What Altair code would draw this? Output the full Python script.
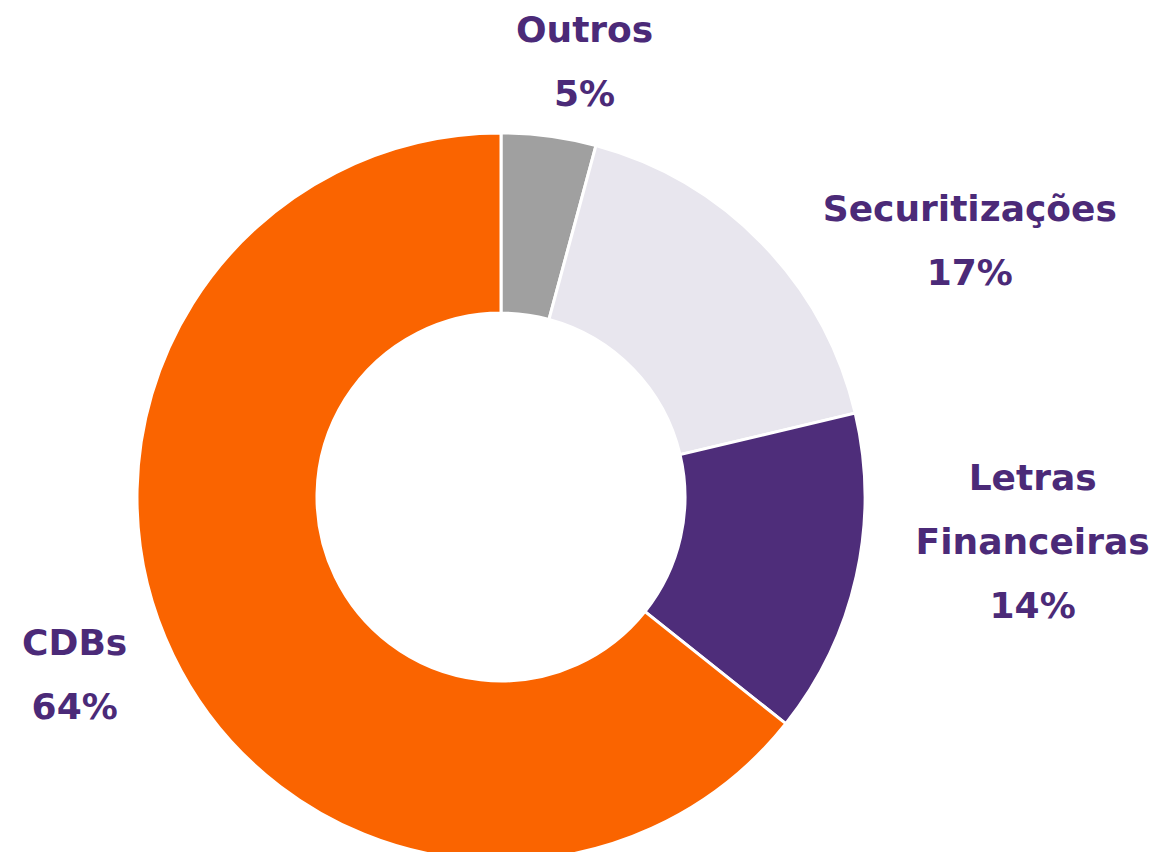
import altair as alt
import pandas as pd

categories = ["Outros", "Securitizações", "Letras Financeiras", "CDBs"]
values = [4.2, 17.1, 14.4, 64.3]
labels = ["Outros\n5%", "Securitizações\n17%", "Letras\nFinanceiras\n14%", "CDBs\n64%"]
colors = ["#a0a0a0", "#e8e6ee", "#4e2d7a", "#fa6400"]

df = pd.DataFrame({"cat": categories, "value": values, "label": labels,
                   "order": list(range(len(categories)))})

# label offsets (layout only)
offsets = {
    "Outros": (27, -40),
    "Securitizações": (160, 12),
    "Letras Financeiras": (112, -112),
    "CDBs": (-39, -40),
}

CX, CY = 493, 489
theta_scale = alt.Scale(domain=[0, 100], range=[0, 6.283185307])

base = alt.Chart(df).transform_stack(
    stack="value", groupby=[], as_=["v0", "v1"], sort=[alt.SortField("order")]
).transform_calculate(mid="(datum.v0 + datum.v1) / 2")

arcs = base.mark_arc(innerRadius=184, outerRadius=364, stroke="white", strokeWidth=3).encode(
    theta=alt.Theta("v0:Q", scale=theta_scale),
    theta2="v1:Q",
    color=alt.Color("cat:N", scale=alt.Scale(domain=categories, range=colors), legend=None),
    x=alt.value(CX),
    y=alt.value(CY),
)

layers = [arcs]
for cat in categories:
    dx, dy = offsets[cat]
    t = base.transform_filter(alt.datum.cat == cat).mark_text(
        radius=430, dx=dx, dy=dy, font="DejaVu Sans", fontSize=36, fontWeight="bold",
        color="#4b2a78", align="center", baseline="middle", lineBreak="\n", lineHeight=64,
    ).encode(
        theta=alt.Theta("mid:Q", scale=theta_scale),
        text="label:N",
        x=alt.value(CX),
        y=alt.value(CY),
    )
    layers.append(t)

chart = alt.layer(*layers).properties(
    width=1155, height=844, autosize=alt.AutoSizeParams(type="none"), padding=0
).configure_view(stroke=None)

chart.save("out.html", embed_options={"renderer": "svg", "actions": False})
